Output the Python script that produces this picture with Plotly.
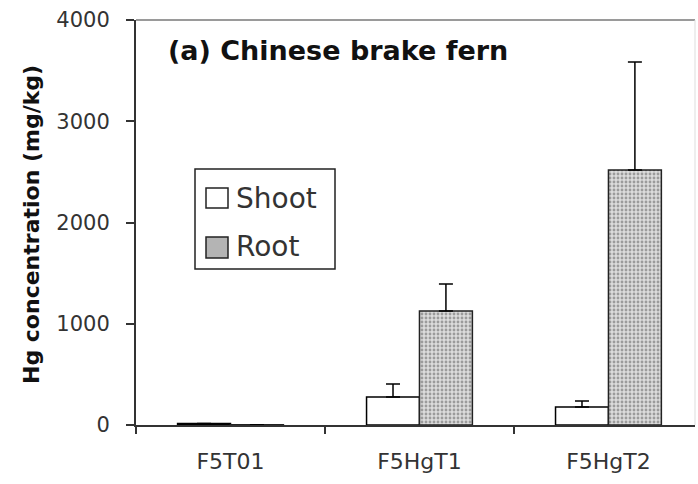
import plotly.graph_objects as go

categories = ["F5T01", "F5HgT1", "F5HgT2"]
shoot = [15, 277, 178]
shoot_err = [0, 128, 59]
root = [3, 1126, 2519]
root_err = [0, 267, 1066]
y_ticks = [0, 1000, 2000, 3000, 4000]

W, H = 698, 484
L, R, T, B = 136, 3, 20, 59
pw, ph = W - L - R, H - T - B

def px(x):
    return (x - L) / pw

def py(y):
    return (H - B - y) / ph

FONT = "DejaVu Sans"

fig = go.Figure()
fig.add_trace(go.Bar(
    x=categories, y=shoot, name="Shoot",
    marker=dict(color="white", line=dict(color="black", width=1.5)),
    error_y=dict(type="data", array=shoot_err, arrayminus=[0]*3, symmetric=False,
                 color="black", thickness=1.5, width=7),
    showlegend=False,
))
fig.add_trace(go.Bar(
    x=categories, y=root, name="Root",
    marker=dict(color="#d8d8d8", line=dict(color="#222", width=1.5),
                pattern=dict(shape=".", fgcolor="#5a5a5a", bgcolor="#dcdcdc", size=4, solidity=0.4)),
    error_y=dict(type="data", array=root_err, arrayminus=[0]*3, symmetric=False,
                 color="black", thickness=1.5, width=7),
    showlegend=False,
))

shapes = [
    dict(type="line", xref="paper", yref="paper", x0=0, x1=1, y0=1, y1=1,
         line=dict(color="#9a9a9a", width=2)),
    dict(type="line", xref="paper", yref="paper", x0=1, x1=1, y0=0, y1=1,
         line=dict(color="#dddddd", width=1)),
    # legend box
    dict(type="rect", xref="paper", yref="paper", x0=px(195), x1=px(335), y0=py(269), y1=py(169),
         line=dict(color="#222", width=1.5), fillcolor="white"),
    dict(type="rect", xref="paper", yref="paper", x0=px(206), x1=px(228), y0=py(208), y1=py(188),
         line=dict(color="#222", width=1.5), fillcolor="white"),
    dict(type="rect", xref="paper", yref="paper", x0=px(206), x1=px(228), y0=py(258), y1=py(237),
         line=dict(color="#222", width=1.5), fillcolor="#b4b4b4"),
]

annotations = [
    dict(text="<b>(a) Chinese brake fern</b>", xref="paper", yref="paper", x=px(166), y=py(50),
         xanchor="left", yanchor="middle", showarrow=False,
         font=dict(family=FONT, size=27, color="#111")),
    dict(text="<b>Hg concentration (mg/kg)</b>", xref="paper", yref="paper", x=px(31), y=py(225),
         xanchor="center", yanchor="middle", textangle=-90, showarrow=False,
         font=dict(family=FONT, size=22, color="#111")),
    dict(text="Shoot", xref="paper", yref="paper", x=px(234), y=py(198),
         xanchor="left", yanchor="middle", showarrow=False,
         font=dict(family=FONT, size=28, color="#333")),
    dict(text="Root", xref="paper", yref="paper", x=px(234), y=py(247),
         xanchor="left", yanchor="middle", showarrow=False,
         font=dict(family=FONT, size=28, color="#333")),
]

fig.update_layout(
    width=W, height=H,
    margin=dict(l=L, r=R, t=T, b=B, pad=0),
    paper_bgcolor="white", plot_bgcolor="white",
    barmode="group", bargap=0.44, bargroupgap=0,
    shapes=shapes, annotations=annotations,
    font=dict(family=FONT, color="#333"),
)
fig.update_xaxes(
    type="category", range=[-0.5, 2.458], showgrid=False,
    showline=True, linecolor="#333", linewidth=2,
    ticks="outside", tickson="boundaries", ticklen=7, tickwidth=2, tickcolor="#333",
    ticklabelstandoff=16, tickfont=dict(family=FONT, size=22, color="#333"),
    zeroline=False, fixedrange=True,
)
fig.update_yaxes(
    range=[0, 4000], tickvals=y_ticks, showgrid=False,
    showline=True, linecolor="#333", linewidth=2,
    ticks="outside", ticklen=8, tickwidth=2, tickcolor="#333",
    ticklabelstandoff=12, tickfont=dict(family=FONT, size=21, color="#333"),
    zeroline=False, fixedrange=True,
)

fig.write_html("out.html")
